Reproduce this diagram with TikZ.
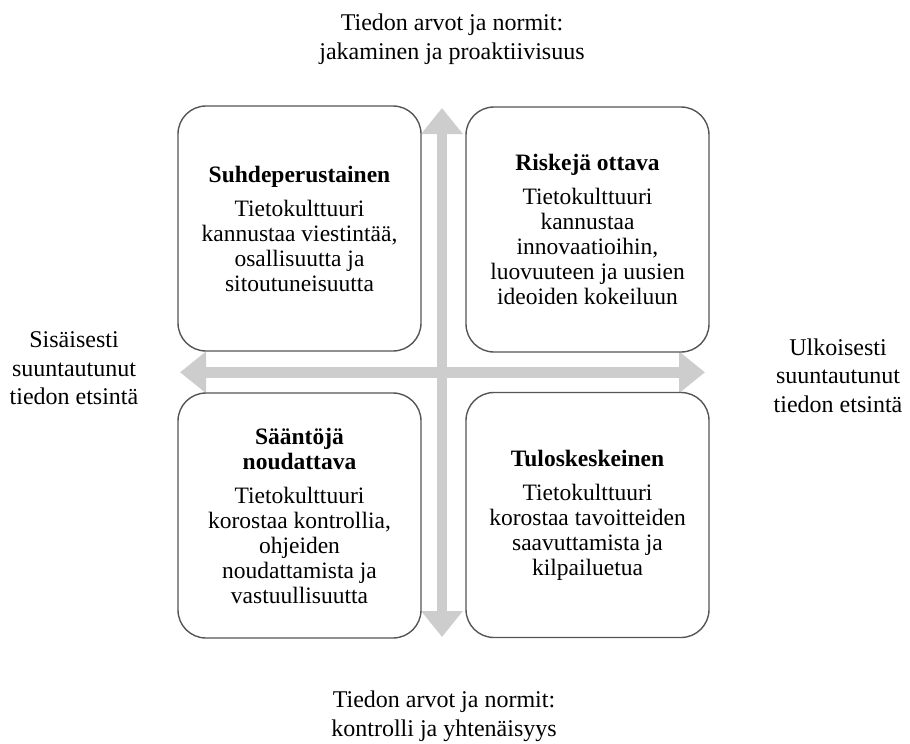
\documentclass[tikz,border=0pt]{standalone}
\usepackage{fontspec}
\setmainfont{Liberation Serif}
\usetikzlibrary{arrows.meta}
\definecolor{axisgray}{RGB}{205,205,205}
\definecolor{boxline}{RGB}{85,85,85}
\begin{document}
\begin{tikzpicture}[x=1pt,y=-1pt,
  quad/.style={draw=boxline, line width=1.4pt, rounded corners=28pt, fill=white,
    minimum width=243pt, minimum height=245pt, align=center, inner sep=0pt,
    font=\fontsize{23.5}{25}\selectfont},
  outer/.style={align=center, inner sep=0pt, font=\fontsize{24}{28.5}\selectfont},
  axis/.style={draw=axisgray, line width=10.5pt,
    {Triangle[length=26pt,width=40pt]}-{Triangle[length=26pt,width=40pt]}}
]
\useasboundingbox (0,0) rectangle (910,744);
% axes
\coordinate (vtop) at (442,108);
\coordinate (vbot) at (442,637);
\coordinate (hleft) at (180,372.3);
\coordinate (hright) at (705,372.3);
\draw[axis] (vtop) -- (vbot);
\draw[axis] (hleft) -- (hright);
% quadrant boxes
\node[quad] (tl) at (299.5,228.5) {\textbf{Suhdeperustainen}\\[9pt]Tietokulttuuri\\kannustaa viestintää,\\osallisuutta ja\\sitoutuneisuutta};
\node[quad] (tr) at (587.5,229.5) {\textbf{Riskejä ottava}\\[9pt]Tietokulttuuri\\kannustaa\\innovaatioihin,\\luovuuteen ja uusien\\ideoiden kokeiluun};
\node[quad] (bl) at (299.5,515.5) {\textbf{Sääntöjä}\\\textbf{noudattava}\\[9pt]Tietokulttuuri\\korostaa kontrollia,\\ohjeiden\\noudattamista ja\\vastuullisuutta};
\node[quad] (br) at (587.5,515) {\textbf{Tuloskeskeinen}\\[9pt]Tietokulttuuri\\korostaa tavoitteiden\\saavuttamista ja\\kilpailuetua};
% axis labels
\node[outer] (top) at (452,39.2) {Tiedon arvot ja normit:\\jakaminen ja proaktiivisuus};
\node[outer] (bottom) at (444,716.2) {Tiedon arvot ja normit:\\kontrolli ja yhtenäisyys};
\node[outer] (left) at (74,368.5) {Sisäisesti\\suuntautunut\\tiedon etsintä};
\node[outer] (right) at (838,375.5) {Ulkoisesti\\suuntautunut\\tiedon etsintä};
\end{tikzpicture}
\end{document}
